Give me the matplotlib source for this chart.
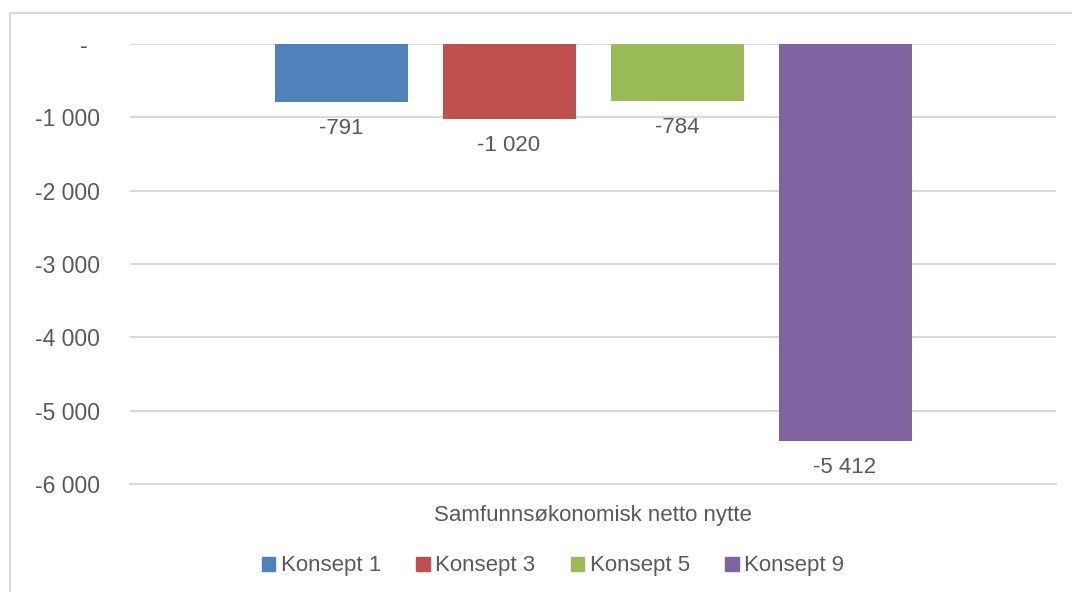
import numpy as np
import matplotlib.pyplot as plt
from matplotlib.patches import Rectangle

# Data
category = 'Samfunnsøkonomisk netto nytte'
series = ['Konsept 1', 'Konsept 3', 'Konsept 5', 'Konsept 9']
values = [-791, -1020, -784, -5412]
colors = ['#4F81BD', '#C0504D', '#9BBB59', '#8064A2']
yticks = [0, -1000, -2000, -3000, -4000, -5000, -6000]

plt.rcParams['font.family'] = ['Liberation Sans', 'DejaVu Sans']
text_color = '#595959'

W, H = 1072, 592
fig = plt.figure(figsize=(W / 100, H / 100), dpi=100)

# light grey frame round the chart (runs off the right and bottom edges)
fig.patches.append(Rectangle((10 / W, -0.2), 1.2, 1.2 - 13.5 / H, transform=fig.transFigure,
                             fill=False, edgecolor='#d9d9d9', linewidth=1.5))

ax = fig.add_axes([130 / W, 1 - 484 / H, 926 / W, 440 / H])

def fmt(v):
    if v == 0:
        return '-'
    return '{:,}'.format(int(v)).replace(',', ' ')

x = np.arange(len(series))
width = 133 / 168
bars = ax.bar(x, values, width=width, color=colors, zorder=2)

for xi, v in zip(x, values):
    ax.annotate(fmt(v), (xi, v), xytext=(0, -19), textcoords='offset points',
                ha='center', va='center', fontsize=16, color=text_color)

half = 926 / 168 / 2
ax.set_xlim(1.5 - half, 1.5 + half)
ax.set_ylim(-6000, 0)
ax.set_yticks(yticks)
ax.set_yticklabels([fmt(t) if t else '-\u2007' for t in yticks])
ax.yaxis.grid(True, color='#d9d9d9', linewidth=1.5, zorder=0)
ax.set_axisbelow(True)
ax.set_xticks([])
ax.tick_params(axis='y', length=0, pad=21.5, labelsize=16.5, labelcolor=text_color)
for s in ax.spines.values():
    s.set_visible(False)
ax.spines['bottom'].set_visible(True)
ax.spines['bottom'].set_color('#d9d9d9')
ax.spines['bottom'].set_linewidth(1.5)

fig.text(593 / W, 1 - 516 / H, category, ha='center', va='center',
         fontsize=16, color=text_color)

handles = [Rectangle((0, 0), 1, 1, color=c) for c in colors]
fig.legend(handles, series, loc='center', bbox_to_anchor=(553 / W, 1 - 566 / H),
           ncol=4, frameon=False, fontsize=16, labelcolor=text_color,
           handlelength=0.6, handleheight=0.6, handletextpad=0.25, columnspacing=1.6)

fig.savefig('out.png', dpi=100)
